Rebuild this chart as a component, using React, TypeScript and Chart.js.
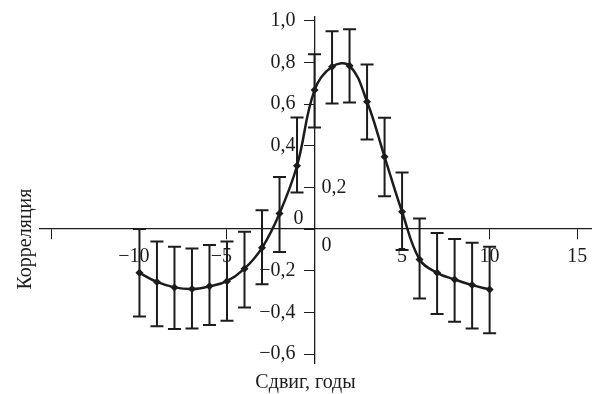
import React, { useEffect, useRef } from "react";
import { Chart, registerables } from "chart.js";

Chart.register(...registerables);

// ---- data ----
const lags: number[] = [-10, -9, -8, -7, -6, -5, -4, -3, -2, -1, 0, 1, 2, 3, 4, 5, 6, 7, 8, 9, 10];
const correlation: number[] = [
  -0.21, -0.254, -0.28, -0.288, -0.275, -0.25, -0.19, -0.09, 0.075, 0.304, 0.667,
  0.779, 0.784, 0.611, 0.347, 0.083, -0.146, -0.21, -0.242, -0.269, -0.29,
];
const upperBound: number[] = [
  0.0, -0.06, -0.085, -0.093, -0.077, -0.06, -0.013, 0.09, 0.25, 0.536, 0.839,
  0.95, 0.959, 0.79, 0.534, 0.272, 0.051, -0.019, -0.048, -0.066, -0.085,
];
const lowerBound: number[] = [
  -0.42, -0.466, -0.48, -0.477, -0.46, -0.44, -0.376, -0.265, -0.11, 0.175, 0.488,
  0.603, 0.608, 0.43, 0.158, -0.1, -0.333, -0.408, -0.445, -0.477, -0.5,
];
const xTickValues: number[] = [-15, -10, -5, 0, 5, 10, 15];
const xTickLabels: string[] = ["", "−10", "−5", "0", "5", "10", "15"];
const yTickValues: number[] = [-0.6, -0.4, -0.2, 0, 0.2, 0.4, 0.6, 0.8, 1.0];
const yTickLabels: string[] = ["−0,6", "−0,4", "−0,2", "0", "0,2", "0,4", "0,6", "0,8", "1,0"];
const xTitle = "Сдвиг, годы";
const yTitle = "Корреляция";

const INK = "#1c1c1c";
const FONT_TICK = '20px "Liberation Serif", "DejaVu Serif", serif';
const FONT_TITLE = '20px "Liberation Serif", "DejaVu Serif", serif';

const errorBarPlugin = {
  id: "errorBars",
  beforeDatasetsDraw(chart: any) {
    const { ctx, scales } = chart;
    const xs = scales.x;
    const ys = scales.y;
    ctx.save();
    ctx.strokeStyle = INK;
    ctx.lineWidth = 2;
    const cap = 6.5;
    lags.forEach((lag, i) => {
      const px = xs.getPixelForValue(lag);
      const top = ys.getPixelForValue(upperBound[i]);
      const bot = ys.getPixelForValue(lowerBound[i]);
      ctx.beginPath();
      ctx.moveTo(px, top);
      ctx.lineTo(px, bot);
      ctx.moveTo(px - cap, top);
      ctx.lineTo(px + cap, top);
      ctx.moveTo(px - cap, bot);
      ctx.lineTo(px + cap, bot);
      ctx.stroke();
    });
    ctx.restore();
  },
};

const labelPlugin = {
  id: "axisLabels",
  afterDraw(chart: any) {
    const { ctx, scales } = chart;
    const xs = scales.x;
    const ys = scales.y;
    const x0 = xs.getPixelForValue(0);
    const y0 = ys.getPixelForValue(0);
    ctx.save();
    ctx.fillStyle = INK;
    ctx.font = FONT_TICK;
    ctx.textBaseline = "middle";
    // x tick labels
    xTickValues.forEach((v, i) => {
      const label = xTickLabels[i];
      if (!label) return;
      const px = xs.getPixelForValue(v);
      if (v === 0) {
        ctx.textAlign = "center";
        ctx.fillText(label, x0 + 12, y0 + 17);
        return;
      }
      const digits = label.replace("−", "");
      const dw = ctx.measureText(digits).width;
      ctx.textAlign = "right";
      ctx.fillText(label, px + dw / 2, y0 + 28);
    });
    // y tick labels
    yTickValues.forEach((v, i) => {
      const label = yTickLabels[i];
      const py = ys.getPixelForValue(v);
      if (v === 0) {
        ctx.textAlign = "center";
        ctx.fillText(label, x0 - 16, y0 - 10);
      } else if (Math.abs(v - 0.2) < 1e-9) {
        ctx.textAlign = "left";
        ctx.fillText(label, x0 + 7, py);
      } else {
        ctx.textAlign = "right";
        ctx.fillText(label, x0 - 19, py);
      }
    });
    // titles
    ctx.font = FONT_TITLE;
    ctx.textAlign = "center";
    ctx.textBaseline = "alphabetic";
    ctx.fillText(xTitle, x0 - 9, 388);
    ctx.translate(31, 239);
    ctx.rotate(-Math.PI / 2);
    ctx.fillText(yTitle, 0, 0);
    ctx.restore();
  },
};

export default function App() {
  const canvasRef = useRef<HTMLCanvasElement | null>(null);

  useEffect(() => {
    document.body.style.margin = "0";
    const canvas = canvasRef.current;
    if (!canvas) return;
    const chart = new Chart(canvas, {
      type: "line",
      data: {
        datasets: [
          {
            data: lags.map((x, i) => ({ x, y: correlation[i] })),
            borderColor: INK,
            backgroundColor: INK,
            borderWidth: 2.5,
            tension: 0.4,
            pointStyle: "rectRot",
            pointRadius: 4,
            pointBackgroundColor: INK,
            pointBorderColor: INK,
            pointBorderWidth: 0,
            fill: false,
          },
        ],
      },
      options: {
        animation: false,
        responsive: false,
        devicePixelRatio: 1,
        layout: { padding: { left: 40, right: 0, top: 17, bottom: 31 } },
        plugins: {
          legend: { display: false },
          tooltip: { enabled: false },
          title: { display: false },
        },
        scales: {
          x: {
            type: "linear",
            position: { y: 0 },
            min: -15.68,
            max: 15.79,
            afterBuildTicks: (scale: any) => {
              scale.ticks = xTickValues.map((v) => ({ value: v }));
            },
            ticks: { display: false },
            grid: {
              display: true,
              drawOnChartArea: false,
              drawTicks: true,
              tickLength: 10,
              color: INK,
              lineWidth: 1,
            },
            border: { display: true, color: INK, width: 1.3 },
          },
          y: {
            type: "linear",
            position: { x: 0 },
            min: -0.643,
            max: 1.018,
            afterBuildTicks: (scale: any) => {
              scale.ticks = yTickValues.map((v) => ({ value: v }));
            },
            ticks: { display: false },
            grid: {
              display: true,
              drawOnChartArea: false,
              drawTicks: true,
              tickLength: 10,
              color: INK,
              lineWidth: 1,
            },
            border: { display: true, color: INK, width: 1.3 },
          },
        },
      },
      plugins: [errorBarPlugin, labelPlugin],
    } as any);
    return () => chart.destroy();
  }, []);

  return (
    <div style={{ width: 595, height: 394, background: "#fff" }}>
      <canvas ref={canvasRef} width={595} height={394} style={{ display: "block" }} />
    </div>
  );
}
